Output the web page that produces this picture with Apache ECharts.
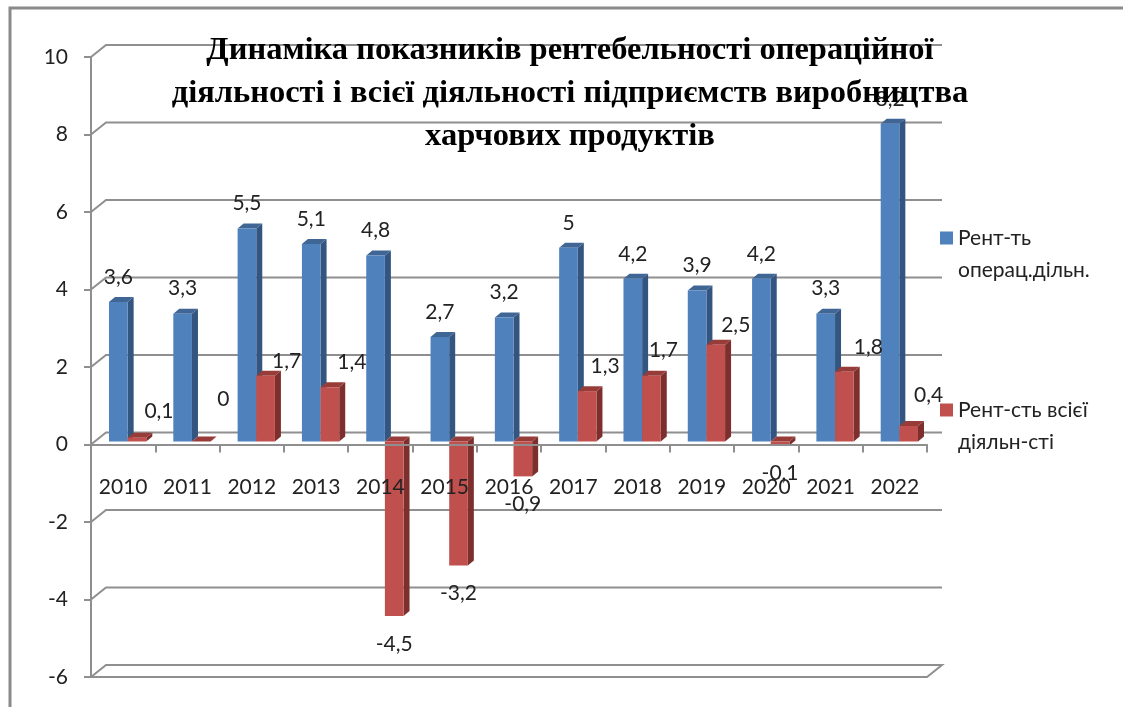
<!DOCTYPE html>
<html>
<head>
<meta charset="utf-8">
<style>
  html, body { margin: 0; padding: 0; background: #fff; }
  #chart { width: 1123px; height: 707px; }
</style>
<script src="https://cdn.jsdelivr.net/npm/echarts@6/dist/echarts.min.js"></script>
</head>
<body>
<div id="chart"></div>
<script>
const years = ['2010', '2011', '2012', '2013', '2014', '2015', '2016', '2017', '2018', '2019', '2020', '2021', '2022'];
const operRent = [3.6, 3.3, 5.5, 5.1, 4.8, 2.7, 3.2, 5, 4.2, 3.9, 4.2, 3.3, 8.2];
const allRent = [0.1, 0, 1.7, 1.4, -4.5, -3.2, -0.9, 1.3, 1.7, 2.5, -0.1, 1.8, 0.4];
const valueTicks = [-6, -4, -2, 0, 2, 4, 6, 8, 10];
const operName = 'Рент-ть\nоперац.дільн.';
const allName = 'Рент-сть всієї\nдіяльн-сті';
const titleText = 'Динаміка показників рентебельності операційної\nдіяльності і всієї діяльності підприємств виробництва\nхарчових продуктів';

// moved by hand in the original, offset from the middle of the red bar
const redLabelShift = [[22, -26], [22, -42], [21, -14], [22, -25], [0, 28], [0, 28], [0, 28],
  [18, -25], [12, -25], [20, -19], [0, 28], [24, -25], [20, -31]];

const font = 'Lato, "Open Sans", sans-serif';
const lineColor = '#8f8f8f';
const wallX = 15, wallY = -12;   // back wall offset
const depthX = 6, depthY = -5;   // bar depth
const barFloorX = 4.5, barFloorY = -3;

function fmt(v) {
  return String(v).replace('.', ',');
}

function wallLine(params, api) {
  const v = api.value(1);
  const y = api.coord([0, v])[1];
  const x0 = params.coordSys.x;
  const x1 = x0 + params.coordSys.width;
  const pts = [[x0, y], [x0 + wallX, y + wallY], [x1 + wallX, y + wallY]];
  if (v === valueTicks[0]) {
    pts.push([x1, y], [x0, y]);
  }
  return {
    type: 'polyline',
    shape: { points: pts },
    style: { stroke: lineColor, lineWidth: 2, fill: null }
  };
}

function bar3d(isRed, colors) {
  return function (params, api) {
    const i = api.value(0);
    const v = api.value(1);
    const w = api.size([1, 0])[0] * 0.29;
    const zero = api.coord([i, 0]);
    const end = api.coord([i, v]);
    const x = zero[0] + barFloorX - (isRed ? 0 : w);
    const yBase = zero[1] + barFloorY;
    const yEnd = end[1] + barFloorY;
    const yTop = Math.min(yBase, yEnd);
    const yBot = Math.max(yBase, yEnd);
    const mid = x + w / 2;
    let lx = mid, ly = yEnd - 25;
    if (isRed) {
      lx = mid + redLabelShift[i][0];
      ly = (v < 0 ? yBot : yEnd) + redLabelShift[i][1];
    }
    return {
      type: 'group',
      children: [
        {
          type: 'polygon',
          shape: { points: [[x + w, yTop], [x + w + depthX, yTop + depthY], [x + w + depthX, yBot + depthY], [x + w, yBot]] },
          style: { fill: colors.side }
        },
        {
          type: 'polygon',
          shape: { points: [[x, yTop], [x + depthX, yTop + depthY], [x + w + depthX, yTop + depthY], [x + w, yTop]] },
          style: { fill: colors.top }
        },
        {
          type: 'rect',
          shape: { x: x, y: yTop, width: w, height: yBot - yTop },
          style: { fill: colors.front }
        },
        {
          type: 'text',
          z2: 10,
          x: lx,
          y: ly,
          style: { text: fmt(v), font: '21px ' + font, fill: '#222', textAlign: 'center', textVerticalAlign: 'middle' }
        }
      ]
    };
  };
}

const blue = { front: '#4f81bd', side: '#34557f', top: '#3f6694' };
const red = { front: '#c0504d', side: '#7d2f2d', top: '#983c3a' };

const chart = echarts.init(document.getElementById('chart'));
chart.setOption({
  animation: false,
  backgroundColor: '#fff',
  title: {
    text: titleText,
    left: 565,
    top: 24,
    textAlign: 'center',
    textStyle: {
      fontFamily: '"Liberation Serif", serif',
      fontWeight: 'bold',
      fontSize: 32.5,
      lineHeight: 43,
      color: '#000'
    }
  },
  legend: {
    orient: 'vertical',
    left: 940,
    top: 190,
    padding: 0,
    itemWidth: 13,
    itemHeight: 13,
    itemGap: 76,
    icon: 'rect',
    data: [operName, allName],
    // empty first line keeps the marker level with the first text line
    formatter: function (name) { return '\n' + name; },
    textStyle: {
      fontFamily: font,
      fontSize: 21,
      lineHeight: 32,
      color: '#222'
    }
  },
  grid: { left: 91, top: 57, width: 836, height: 620, outerBoundsMode: 'none' },
  xAxis: {
    type: 'category',
    data: years,
    z: 5,
    axisLine: { onZero: true, lineStyle: { color: lineColor, width: 2 } },
    axisTick: { show: true, length: 8, lineStyle: { color: lineColor, width: 2 } },
    axisLabel: { interval: 0, margin: -200, fontFamily: font, fontSize: 21, color: '#222' }
  },
  yAxis: {
    type: 'value',
    min: -6,
    max: 10,
    interval: 2,
    z: 5,
    splitLine: { show: false },
    axisLine: { show: true, onZero: false, lineStyle: { color: lineColor, width: 2 } },
    axisTick: { show: true, length: 7, lineStyle: { color: lineColor, width: 2 } },
    axisLabel: { margin: 23, fontFamily: font, fontSize: 21, color: '#222' }
  },
  graphic: [{
    type: 'polyline',
    silent: true,
    shape: { points: [[10, 707], [10, 8], [1123, 8]] },
    style: { stroke: '#8a8a8a', lineWidth: 3, fill: null }
  }],
  series: [
    {
      type: 'custom',
      z: 1,
      silent: true,
      renderItem: wallLine,
      data: valueTicks.map(function (v) { return [0, v]; })
    },
    {
      name: operName,
      type: 'custom',
      z: 2,
      itemStyle: { color: blue.front },
      renderItem: bar3d(false, blue),
      data: operRent.map(function (v, i) { return [i, v]; })
    },
    {
      name: allName,
      type: 'custom',
      z: 3,
      itemStyle: { color: red.front },
      renderItem: bar3d(true, red),
      data: allRent.map(function (v, i) { return [i, v]; })
    }
  ]
});
</script>
</body>
</html>
